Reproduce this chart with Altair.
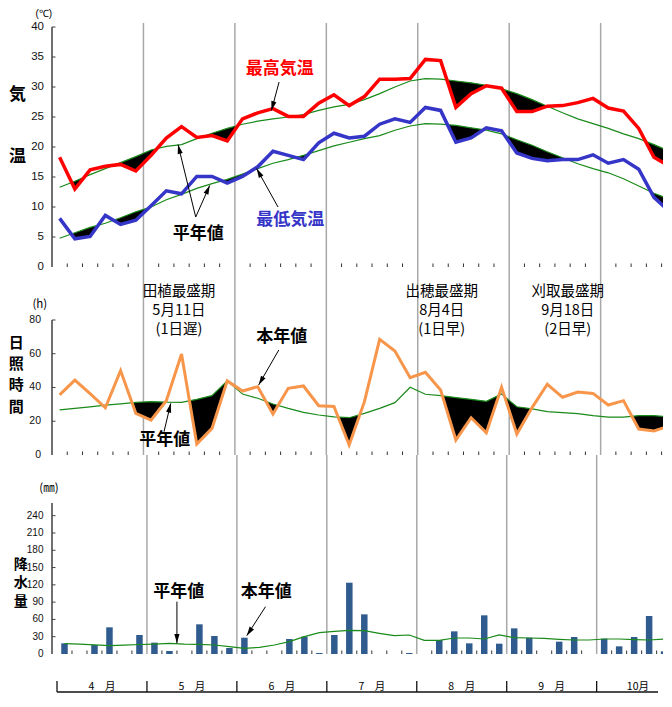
import math
import altair as alt
import pandas as pd

JP = "Noto Sans CJK JP"
NUM = "Liberation Sans"

# ---------------- data (half-monthly periods, Apr 1 .. Oct 5) ----------------
month_names = ["4　月", "5　月", "6　月", "7　月", "8　月", "9　月", "10月"]
period_labels = [1, 2, 3, 4, 5, 6]
temp_ticks = [0, 5, 10, 15, 20, 25, 30, 35, 40]
sun_ticks = [0, 20, 40, 60, 80]
rain_ticks = [0, 30, 60, 90, 120, 150, 180, 210, 240]

tmax = [18.3, 13.0, 16.2, 16.8, 17.1, 16.0,
        18.6, 21.5, 23.4, 21.6, 21.9, 21.0,
        24.7, 25.7, 26.4, 25.1, 25.1, 27.3,
        28.7, 26.9, 28.4, 31.3, 31.3, 31.4,
        34.6, 34.4, 26.6, 28.9, 30.2, 29.8,
        25.9, 25.9, 26.8, 26.9, 27.4, 28.1,
        26.5, 26.0, 23.1, 18.3, 16.8]
tmax_norm = [13.3, 14.3, 15.4, 16.4, 17.4, 18.4,
             19.5, 20.1, 20.4, 21.4, 22.3, 23.1,
             23.8, 24.3, 24.7, 25.0, 25.4, 26.1,
             26.7, 27.1, 27.9, 28.9, 30.0, 31.0,
             31.4, 31.3, 31.0, 30.7, 30.3, 29.7,
             28.9, 27.9, 26.8, 25.7, 24.7, 23.9,
             23.1, 22.2, 21.4, 20.4, 19.3]
tmin = [8.1, 4.7, 5.1, 8.6, 7.1, 7.8,
        10.2, 12.7, 12.2, 15.1, 15.1, 14.0,
        15.1, 16.7, 19.3, 18.6, 17.9, 20.7,
        22.3, 21.5, 21.8, 23.8, 24.7, 24.1,
        26.6, 26.1, 20.8, 21.5, 23.2, 22.7,
        19.0, 18.1, 17.7, 17.9, 17.9, 18.7,
        17.3, 17.9, 16.3, 11.6, 9.3]
tmin_norm = [4.8, 5.7, 6.6, 7.3, 8.2, 9.2,
             10.0, 11.2, 12.1, 13.1, 13.9, 14.6,
             15.5, 16.4, 17.3, 17.9, 18.6, 19.4,
             20.2, 20.8, 21.4, 21.9, 22.8, 23.5,
             23.9, 23.8, 23.6, 23.2, 22.8, 22.2,
             21.2, 20.3, 19.2, 18.2, 17.2, 16.4,
             15.7, 14.7, 13.5, 12.3, 11.3]
sun = [35.6, 44.4, 36.3, 28.0, 50.0, 24.7,
       20.7, 32.2, 59.9, 6.5, 15.8, 43.9,
       37.9, 40.5, 24.3, 39.5, 40.9, 29.2,
       28.8, 5.9, 31.6, 68.5, 61.6, 45.8,
       49.0, 38.5, 8.9, 22.1, 13.2, 40.1,
       12.4, 28.1, 41.9, 34.2, 37.3, 36.5,
       29.6, 32.2, 15.4, 14.2, 17.2]
sun_norm = [26.7, 27.6, 28.5, 29.5, 30.3, 31.2,
            31.6, 31.3, 31.2, 33.0, 35.2, 44.0,
            36.1, 33.6, 30.2, 27.6, 25.3, 23.7,
            22.6, 22.1, 24.7, 27.6, 31.0, 40.1,
            36.0, 35.2, 34.0, 33.0, 31.8, 36.1,
            28.6, 27.3, 25.7, 25.1, 24.5, 23.3,
            22.5, 22.5, 23.3, 23.3, 22.7]
rain = [18.5, 0, 15.6, 46.3, 0, 33.0,
        19.7, 5.2, 0, 51.5, 31.2, 10.4,
        28.3, 0, 0, 26.0, 30.1, 1.7,
        33.0, 123.7, 68.8, 0, 0, 1.7,
        0, 24.3, 39.3, 18.5, 67.1, 17.9,
        44.5, 28.3, 0, 21.4, 29.5, 0,
        26.6, 13.3, 29.5, 65.9, 4.6]
rain_norm = [17.9, 17.0, 16.0, 14.5, 15.5, 16.5,
             17.3, 18.5, 17.3, 16.7, 15.6, 12.7,
             9.8, 11.6, 15.6, 21.4, 30.1, 37.0,
             39.3, 41.1, 40.5, 35.9, 31.8, 33.0,
             23.7, 23.7, 27.8, 27.8, 26.0, 33.0,
             28.3, 27.8, 27.2, 25.5, 24.3, 24.3,
             26.0, 26.0, 24.9, 24.3, 26.0]

N = len(tmax)
centers = [k + 0.5 for k in range(N)]

# ---------------- layout ----------------
PX = 15.24
W = 611
XMAX = W / PX
HA, HB, HC = 244, 188, 199
YA, YB, YC = 40.67, 111.4, 345.3
GREEN = "#1a8a1a"

xs = alt.Scale(domain=[0, XMAX], nice=False, zero=False)
ysA = alt.Scale(domain=[0, YA], nice=False, zero=True)
ysB = alt.Scale(domain=[0, YB], nice=False, zero=True)
ysC = alt.Scale(domain=[0, YC], nice=False, zero=True)

df = pd.DataFrame({"x": centers, "tmax": tmax, "tmax_n": tmax_norm,
                   "tmin": tmin, "tmin_n": tmin_norm, "sun": sun,
                   "sun_n": sun_norm, "rain": rain, "rain_n": rain_norm})

month_bounds = pd.DataFrame({"b": [6, 12, 18, 24, 30, 36]})
tick_bounds = pd.DataFrame({"b": [b for b in range(1, N) if b % 6]})


def deficit_fill(actual, normal):
    rows = []
    for k in range(N):
        a, m = actual[k], normal[k]
        rows.append({"x": k + 0.5, "lo": min(a, m), "hi": m})
        if k < N - 1:
            d0 = a - m
            d1 = actual[k + 1] - normal[k + 1]
            if d0 * d1 < 0:
                t = d0 / (d0 - d1)
                yc = m + t * (normal[k + 1] - m)
                rows.append({"x": k + 0.5 + t, "lo": yc, "hi": yc})
    return pd.DataFrame(rows)


def xq(field="x", axis=None):
    return alt.X(f"{field}:Q", scale=xs, axis=axis)


def yq(field, ys):
    return alt.Y(f"{field}:Q", scale=ys, axis=None)


def plain_xaxis():
    return alt.Axis(labels=False, ticks=False, tickSize=0, grid=False, title=None,
                    domain=True, domainColor="#333333", domainWidth=1.5)


def common_layers(H, ys, ytop, yvalues, xaxis, lsize, lpad):
    grid = alt.Chart(month_bounds).mark_rule(color="#a8a8a8", strokeWidth=1.5).encode(
        x=xq("b", xaxis), y=alt.value(0), y2=alt.value(H))
    ticks = alt.Chart(tick_bounds).mark_rule(color="#333333", strokeWidth=1).encode(
        x=xq("b"), y=alt.value(H - 3.5), y2=alt.value(H))
    yline = alt.Chart(pd.DataFrame({"lo": [0], "hi": [ytop]})).mark_rule(
        color="#404040", strokeWidth=1.5).encode(
        x=alt.value(0), y=yq("lo", ys), y2="hi:Q")
    tick_df = pd.DataFrame({"v": yvalues, "t": [str(v) for v in yvalues]})
    yticks = alt.Chart(tick_df[tick_df.v > 0]).mark_rule(
        color="#404040", strokeWidth=1).encode(
        x=alt.value(0), x2=alt.value(3.5), y=yq("v", ys))
    ylabels = alt.Chart(tick_df).mark_text(
        font=NUM, fontSize=lsize, align="right", baseline="middle", color="#111111").encode(
        x=alt.value(-lpad), y=yq("v", ys), text="t:N")
    return [grid, ticks, yline, yticks, ylabels]


def text_layer(rows, ys, size, weight="normal", font=JP, lh=None):
    d = pd.DataFrame(rows, columns=["t", "x", "y", "c"])
    kw = {}
    if lh is not None:
        kw = {"lineBreak": "\n", "lineHeight": lh}
    return alt.Chart(d).mark_text(font=font, fontSize=size, fontWeight=weight,
                                  baseline="middle", align="center", **kw).encode(
        x=xq(), y=yq("y", ys), text="t:N", color=alt.Color("c:N", scale=None))


def arrow_layers(rows, ys, ppu_y):
    recs = []
    for (x0, y0, x1, y1) in rows:
        dx = (x1 - x0) * PX
        dy = (y1 - y0) * ppu_y
        ang = math.degrees(math.atan2(dx, dy)) % 360
        recs.append({"x": x0, "y": y0, "x2": x1, "y2": y1, "ang": ang})
    d = pd.DataFrame(recs)
    line = alt.Chart(d).mark_rule(color="black", strokeWidth=1).encode(
        x=xq(), x2="x2:Q", y=yq("y", ys), y2="y2:Q")
    head = alt.Chart(d).mark_point(shape="M0,0L-0.65,2.3L0.65,2.3Z", filled=True,
                                   color="black", opacity=1, size=64).encode(
        x=xq("x2"), y=yq("y2", ys), angle=alt.Angle("ang:Q", scale=None))
    return [line, head]


def series(field, ys, color, width):
    return alt.Chart(df).mark_line(color=color, strokeWidth=width, clip=True).encode(
        x=xq(), y=yq(field, ys))


def fill(data, ys):
    return alt.Chart(data).mark_area(color="black", clip=True).encode(
        x=xq(), y=yq("lo", ys), y2="hi:Q")


# ---------------- panel A: temperature ----------------
A_layers = common_layers(HA, ysA, 40, temp_ticks, plain_xaxis(), 11.5, 8)
A_layers += [
    alt.Chart(pd.DataFrame({"g": [0]})).mark_rule(strokeOpacity=0).encode(
        x=alt.value(-43.8), y=alt.value(-14.7), y2=alt.value(-14)),
    fill(deficit_fill(tmax, tmax_norm), ysA),
    fill(deficit_fill(tmin, tmin_norm), ysA),
    series("tmax_n", ysA, GREEN, 1.2),
    series("tmin_n", ysA, GREEN, 1.2),
    series("tmax", ysA, "#ff0000", 3.5),
    series("tmin", ysA, "#3535c8", 3.5),
    text_layer([("最高気温", 14.94, 33.07, "#ff0000"),
                ("最低気温", 15.63, 7.78, "#3535c8"),
                ("平年値", 9.59, 5.57, "#000000")], ysA, 17, "bold"),
    text_layer([("気\n温", -2.27, 28.6, "#000000")], ysA, 17, "bold", lh=61.7),
    text_layer([("(℃)", -0.54, 42.1, "#000000")], ysA, 10, font=NUM),
]
A_layers += arrow_layers([(14.9, 30.83, 14.4, 26.1),
                          (14.83, 10.0, 13.43, 16.4),
                          (9.43, 8.33, 8.27, 20.4),
                          (9.43, 8.33, 10.35, 13.6)], ysA, HA / YA)
panelA = alt.layer(*A_layers).properties(width=W, height=HA)

# ---------------- panel B: sunshine ----------------
B_layers = common_layers(HB, ysB, 80, sun_ticks, plain_xaxis(), 10.5, 11)
B_layers += [
    fill(deficit_fill(sun, sun_norm), ysB),
    series("sun_n", ysB, GREEN, 1.2),
    series("sun", ysB, "#f7964a", 3),
    text_layer([("本年値", 15.07, 69.9, "#000000"),
                ("平年値", 7.4, 8.9, "#000000")], ysB, 17, "bold"),
    text_layer([("日\n照\n時\n間", -2.34, 66.2, "#000000")], ysB, 15, "bold", lh=21.1),
    text_layer([("田植最盛期\n5月11日\n(1日遅)", 8.33, 96.8, "#000000"),
                ("出穂最盛期\n8月4日\n(1日早)", 25.57, 96.8, "#000000"),
                ("刈取最盛期\n9月18日\n(2日早)", 33.84, 96.8, "#000000")],
               ysB, 14.5, lh=19),
    text_layer([("(h)", -0.8, 88.9, "#000000")], ysB, 11.5),
]
B_layers += arrow_layers([(14.88, 62.2, 13.56, 41.5),
                          (7.35, 13.8, 7.79, 30.6)], ysB, HB / YB)
panelB = alt.layer(*B_layers).properties(width=W, height=HB)

# ---------------- panel C: precipitation ----------------
xaxisC = alt.Axis(values=[c for c in centers if c < XMAX],
                  labelExpr=f"{period_labels}[floor(datum.value) % 6]",
                  ticks=False, tickSize=0, grid=False, title=None, domain=True,
                  domainColor="#333333", domainWidth=1.5, labelFontSize=13.5,
                  labelFont=NUM, labelColor="#111111", labelPadding=7,
                  labelOverlap=False, labelFlush=False)
C_layers = common_layers(HC, ysC, 262, rain_ticks, xaxisC, 10, 8.5)
month_df = pd.DataFrame({"m": month_names,
                         "start": [0, 6, 12, 18, 24, 30, 36],
                         "mid": [3, 9, 15, 21, 27, 33, 38.75]})
C_layers += [
    alt.Chart(df).transform_filter("datum.rain > 0").mark_bar(
        size=6.5, color="#2f5b8f", clip=True).encode(x=xq(), y=yq("rain", ysC)),
    series("rain_n", ysC, GREEN, 1.2),
    text_layer([("平年値", 8.12, 108.1, "#000000"),
                ("本年値", 13.96, 108.1, "#000000")], ysC, 17, "bold"),
    text_layer([("降\n水\n量", -2.42, 154.4, "#000000")], ysC, 14, "bold", lh=18.4),
    text_layer([("(㎜)", -0.54, 286.3, "#000000")], ysC, 11.5),
    alt.Chart(month_df).mark_rule(color="#111111", strokeWidth=1.3).encode(
        x=xq("start"), y=alt.value(HC + 27), y2=alt.value(HC + 38)),
    alt.Chart(pd.DataFrame({"a": [0], "b": [XMAX]})).mark_rule(color="#111111", strokeWidth=1.5).encode(
        x=xq("a"), x2="b:Q", y=alt.value(HC + 38)),
    alt.Chart(month_df).mark_text(font=JP, fontSize=10.5, baseline="middle").encode(
        x=xq("mid"), y=alt.value(HC + 32.5), text="m:N"),
]
C_layers += arrow_layers([(8.0, 90.8, 8.0, 18.6),
                          (13.91, 82.1, 12.66, 31.8)], ysC, HC / YC)
panelC = alt.layer(*C_layers).properties(width=W, height=HC)

chart = alt.vconcat(panelA, panelB, panelC, spacing=0, bounds="flush").properties(
    padding={"left": 0, "top": 0, "right": 0, "bottom": 0},
    background="white"
).configure_view(stroke=None)

chart.save("out.html", embed_options={"renderer": "svg", "actions": False})
